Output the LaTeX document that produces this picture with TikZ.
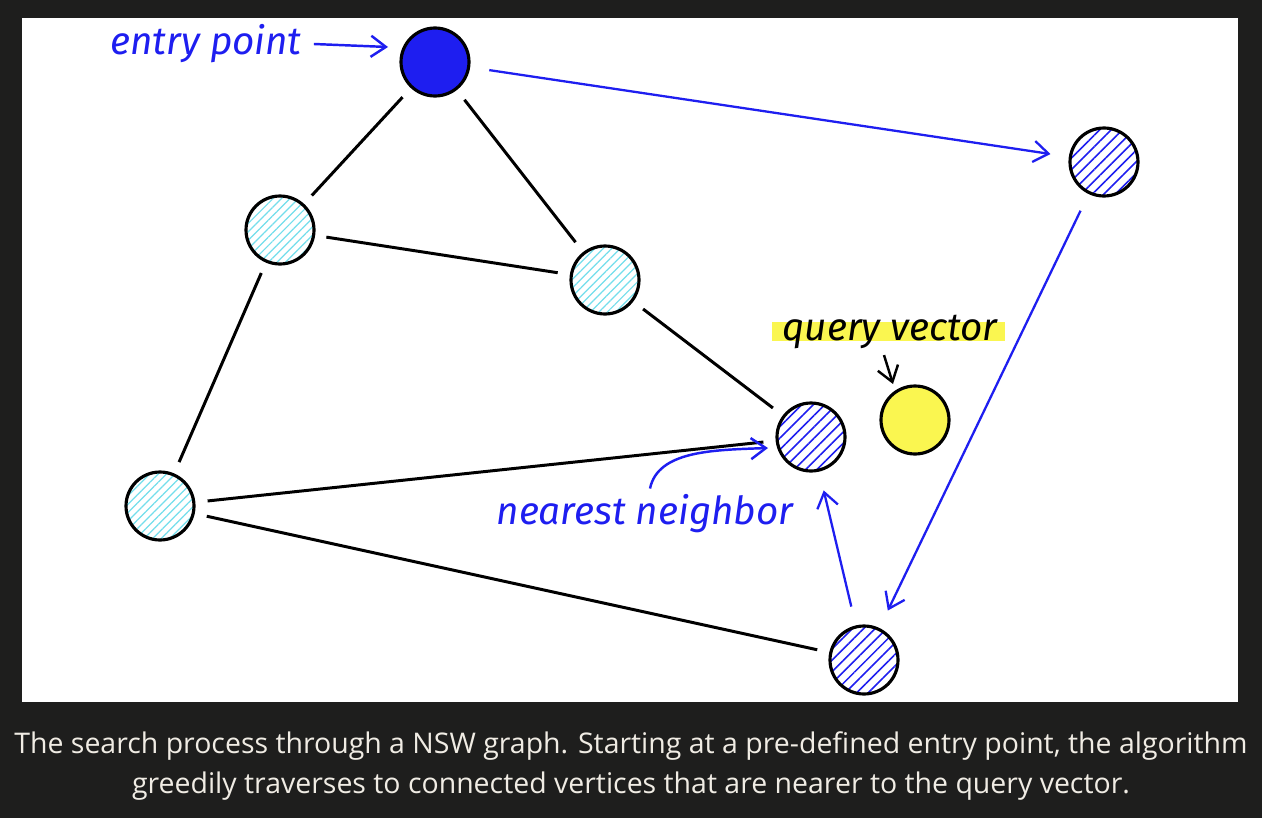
\documentclass[tikz,border=0pt]{standalone}
\usepackage{fontspec}
\setmainfont{Open Sans}
\newfontfamily\handfont{Fira Sans}
\usetikzlibrary{arrows.meta,patterns.meta,calc}

\definecolor{penblue}{RGB}{30,30,240}
\definecolor{hatchcyan}{RGB}{115,222,236}
\definecolor{marker}{RGB}{250,246,80}
\definecolor{darkbg}{RGB}{30,30,29}
\definecolor{captext}{RGB}{240,236,228}

\tikzset{
  vertex/.style={circle,draw=black,line width=1.8pt,minimum size=1.36cm,inner sep=0pt},
  bluehatch/.style={vertex,pattern={Lines[angle=45,distance=4.6pt,line width=0.9pt]},pattern color=penblue},
  cyanhatch/.style={vertex,pattern={Lines[angle=45,distance=3.4pt,line width=0.7pt]},pattern color=hatchcyan},
  link/.style={line width=1.7pt,shorten >=7pt,shorten <=7pt},
  hop/.style={penblue,line width=1.3pt,shorten >=11pt,shorten <=11pt,-{Straight Barb[length=8.5pt,width=12pt]}},
  note/.style={penblue,line width=1.4pt,-{Straight Barb[length=8.5pt,width=12pt]}},
  hand/.style={font=\handfont\itshape\fontsize{22}{26}\selectfont},
}

\begin{document}
\begin{tikzpicture}[x=0.02cm,y=-0.02cm]
\useasboundingbox (0,0) rectangle (1262,818);
\fill[darkbg] (0,0) rectangle (1262,818);
\fill[white] (22,18) rectangle (1238,702);

% vertices
\node[vertex,fill=penblue] (entry) at (435,62) {};
\node[bluehatch] (far) at (1104,162) {};
\node[cyanhatch] (left) at (280,230) {};
\node[cyanhatch] (mid) at (605,280) {};
\node[bluehatch] (near) at (811,437) {};
\node[vertex,fill=marker] (query) at (915,420) {};
\node[cyanhatch] (low) at (160,506) {};
\node[bluehatch] (bottom) at (864,660) {};

% graph edges
\draw[link] (entry) -- (left);
\draw[link] (entry) -- (mid);
\draw[link] (left) -- (mid);
\draw[link] (left) -- (low);
\draw[link] (mid) -- (near);
\draw[link] (low) -- (near);
\draw[link] (low) -- (bottom);

% search path
\draw[hop] (entry) -- (far);
\draw[hop] (far) -- (bottom);
\draw[hop] (bottom) -- (near);

% labels
\node[hand,text=penblue] (ep) at (206,44) {entry point};
\coordinate (eptip) at (388,47);
\draw[note] ($(ep.east)+(6,0)$) -- (eptip);

\fill[marker] (772,322) rectangle (1005,341);
\node[hand] (qv) at (890,332) {query vector};
\coordinate (qtip) at (893,384);
\draw[note,black] ($(qv.south)+(-6,0)$) -- (qtip);

\node[hand,text=penblue] (nn) at (645,514) {nearest neighbor};
\coordinate (nntip) at (768,448);
\draw[note] ($(nn.north)+(5,0)$) .. controls +(8,-38) and +(-55,2) .. (nntip);

% caption
\node[text=captext,align=center,font=\fontsize{16.2}{22.7}\selectfont] (cap) at (631,766)
  {The search process through a NSW graph. Starting at a pre-defined entry point, the algorithm\\
   greedily traverses to connected vertices that are nearer to the query vector.};
\end{tikzpicture}
\end{document}
